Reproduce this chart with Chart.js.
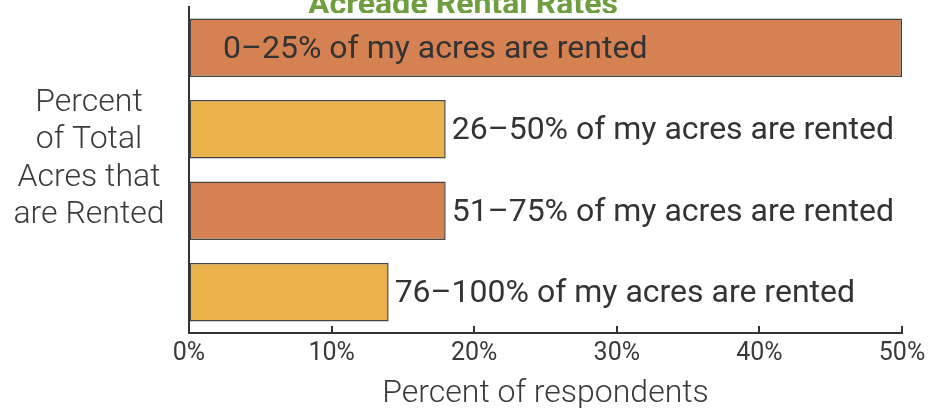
<!DOCTYPE html>
<html>
<head>
<meta charset="utf-8">
<script src="https://cdn.jsdelivr.net/npm/chart.js@4/dist/chart.umd.min.js"></script>
<style>
html,body{margin:0;padding:0;background:#fff;}
#wrap{width:931px;height:410px;position:relative;}
</style>
</head>
<body>
<div id="wrap"><canvas id="c" width="931" height="410"></canvas></div>
<script>
const titleText = "Acreage Rental Rates";
const categories = [
  "0\u201325% of my acres are rented",
  "26\u201350% of my acres are rented",
  "51\u201375% of my acres are rented",
  "76\u2013100% of my acres are rented"
];
const values = [50, 18, 18, 14];
const barColors = ["#D68151", "#EBB24B", "#D68151", "#EBB24B"];
const xTicks = [0, 10, 20, 30, 40, 50];
const yTitleLines = ["Percent", "of Total", "Acres that", "are Rented"];
const xTitle = "Percent of respondents";

const decor = {
  id: "decor",
  afterDatasetsDraw(chart) {
    const ctx = chart.ctx;
    const xs = chart.scales.x;
    const meta = chart.getDatasetMeta(0);
    ctx.save();
    // bar labels
    ctx.font = "32px Roboto";
    ctx.fillStyle = "#333333";
    ctx.textBaseline = "middle";
    meta.data.forEach((bar, i) => {
      const txt = categories[i];
      const w = ctx.measureText(txt).width;
      let x = bar.x + 6;
      ctx.textAlign = "left";
      if (x + w > chart.chartArea.right) {
        x = xs.getPixelForValue(0) + 34;
      }
      ctx.fillText(txt, x, bar.y + 2);
    });
    // inward ticks on x axis
    ctx.strokeStyle = "#333333";
    ctx.lineWidth = 2;
    const yb = chart.chartArea.bottom;
    xTicks.forEach(v => {
      const px = Math.round(xs.getPixelForValue(v));
      ctx.beginPath();
      ctx.moveTo(px, yb);
      ctx.lineTo(px, yb - 7);
      ctx.stroke();
    });
    // y title
    ctx.font = "300 32px Roboto";
    ctx.fillStyle = "#3a3a3a";
    ctx.textAlign = "center";
    ctx.textBaseline = "middle";
    yTitleLines.forEach((l, i) => {
      ctx.fillText(l, 89, 103 + i * 37.3);
    });
    // clipped title
    ctx.beginPath();
    ctx.rect(0, 0, chart.width, 13);
    ctx.clip();
    ctx.font = "bold 32px Roboto";
    ctx.fillStyle = "#6E9E3F";
    ctx.textAlign = "center";
    ctx.textBaseline = "alphabetic";
    ctx.fillText(titleText, 463, 14);
    ctx.restore();
  }
};

new Chart(document.getElementById("c"), {
  type: "bar",
  data: {
    labels: categories,
    datasets: [{
      data: values,
      backgroundColor: barColors,
      borderColor: "#444444",
      borderWidth: 1.5,
      borderSkipped: false,
      categoryPercentage: 0.715,
      barPercentage: 1.0
    }]
  },
  options: {
    indexAxis: "y",
    responsive: false,
    animation: false,
    layout: { padding: { left: 189, right: 29, top: 7, bottom: 0 } },
    plugins: { legend: { display: false }, tooltip: { enabled: false }, title: { display: false } },
    scales: {
      x: {
        min: 0, max: 50,
        afterBuildTicks(s) { s.ticks = xTicks.map(v => ({ value: v })); },
        afterFit(s) { s.paddingLeft = 0; s.paddingRight = 0; },
        ticks: {
          callback: v => v + "%",
          font: { family: "Roboto", size: 25, lineHeight: 1.0 },
          color: "#3a3a3a",
          padding: 8,
          maxRotation: 0
        },
        grid: { display: true, drawOnChartArea: false, drawTicks: false },
        border: { display: true, color: "#333333", width: 2 },
        title: {
          display: true,
          text: xTitle,
          font: { family: "Roboto", size: 32, weight: "300", lineHeight: 1.0 },
          color: "#3a3a3a",
          padding: { top: 4, bottom: 0 }
        }
      },
      y: {
        ticks: { display: false },
        grid: { display: false, drawTicks: false },
        border: { display: true, color: "#333333", width: 2 }
      }
    }
  },
  plugins: [decor]
});
</script>
</body>
</html>
